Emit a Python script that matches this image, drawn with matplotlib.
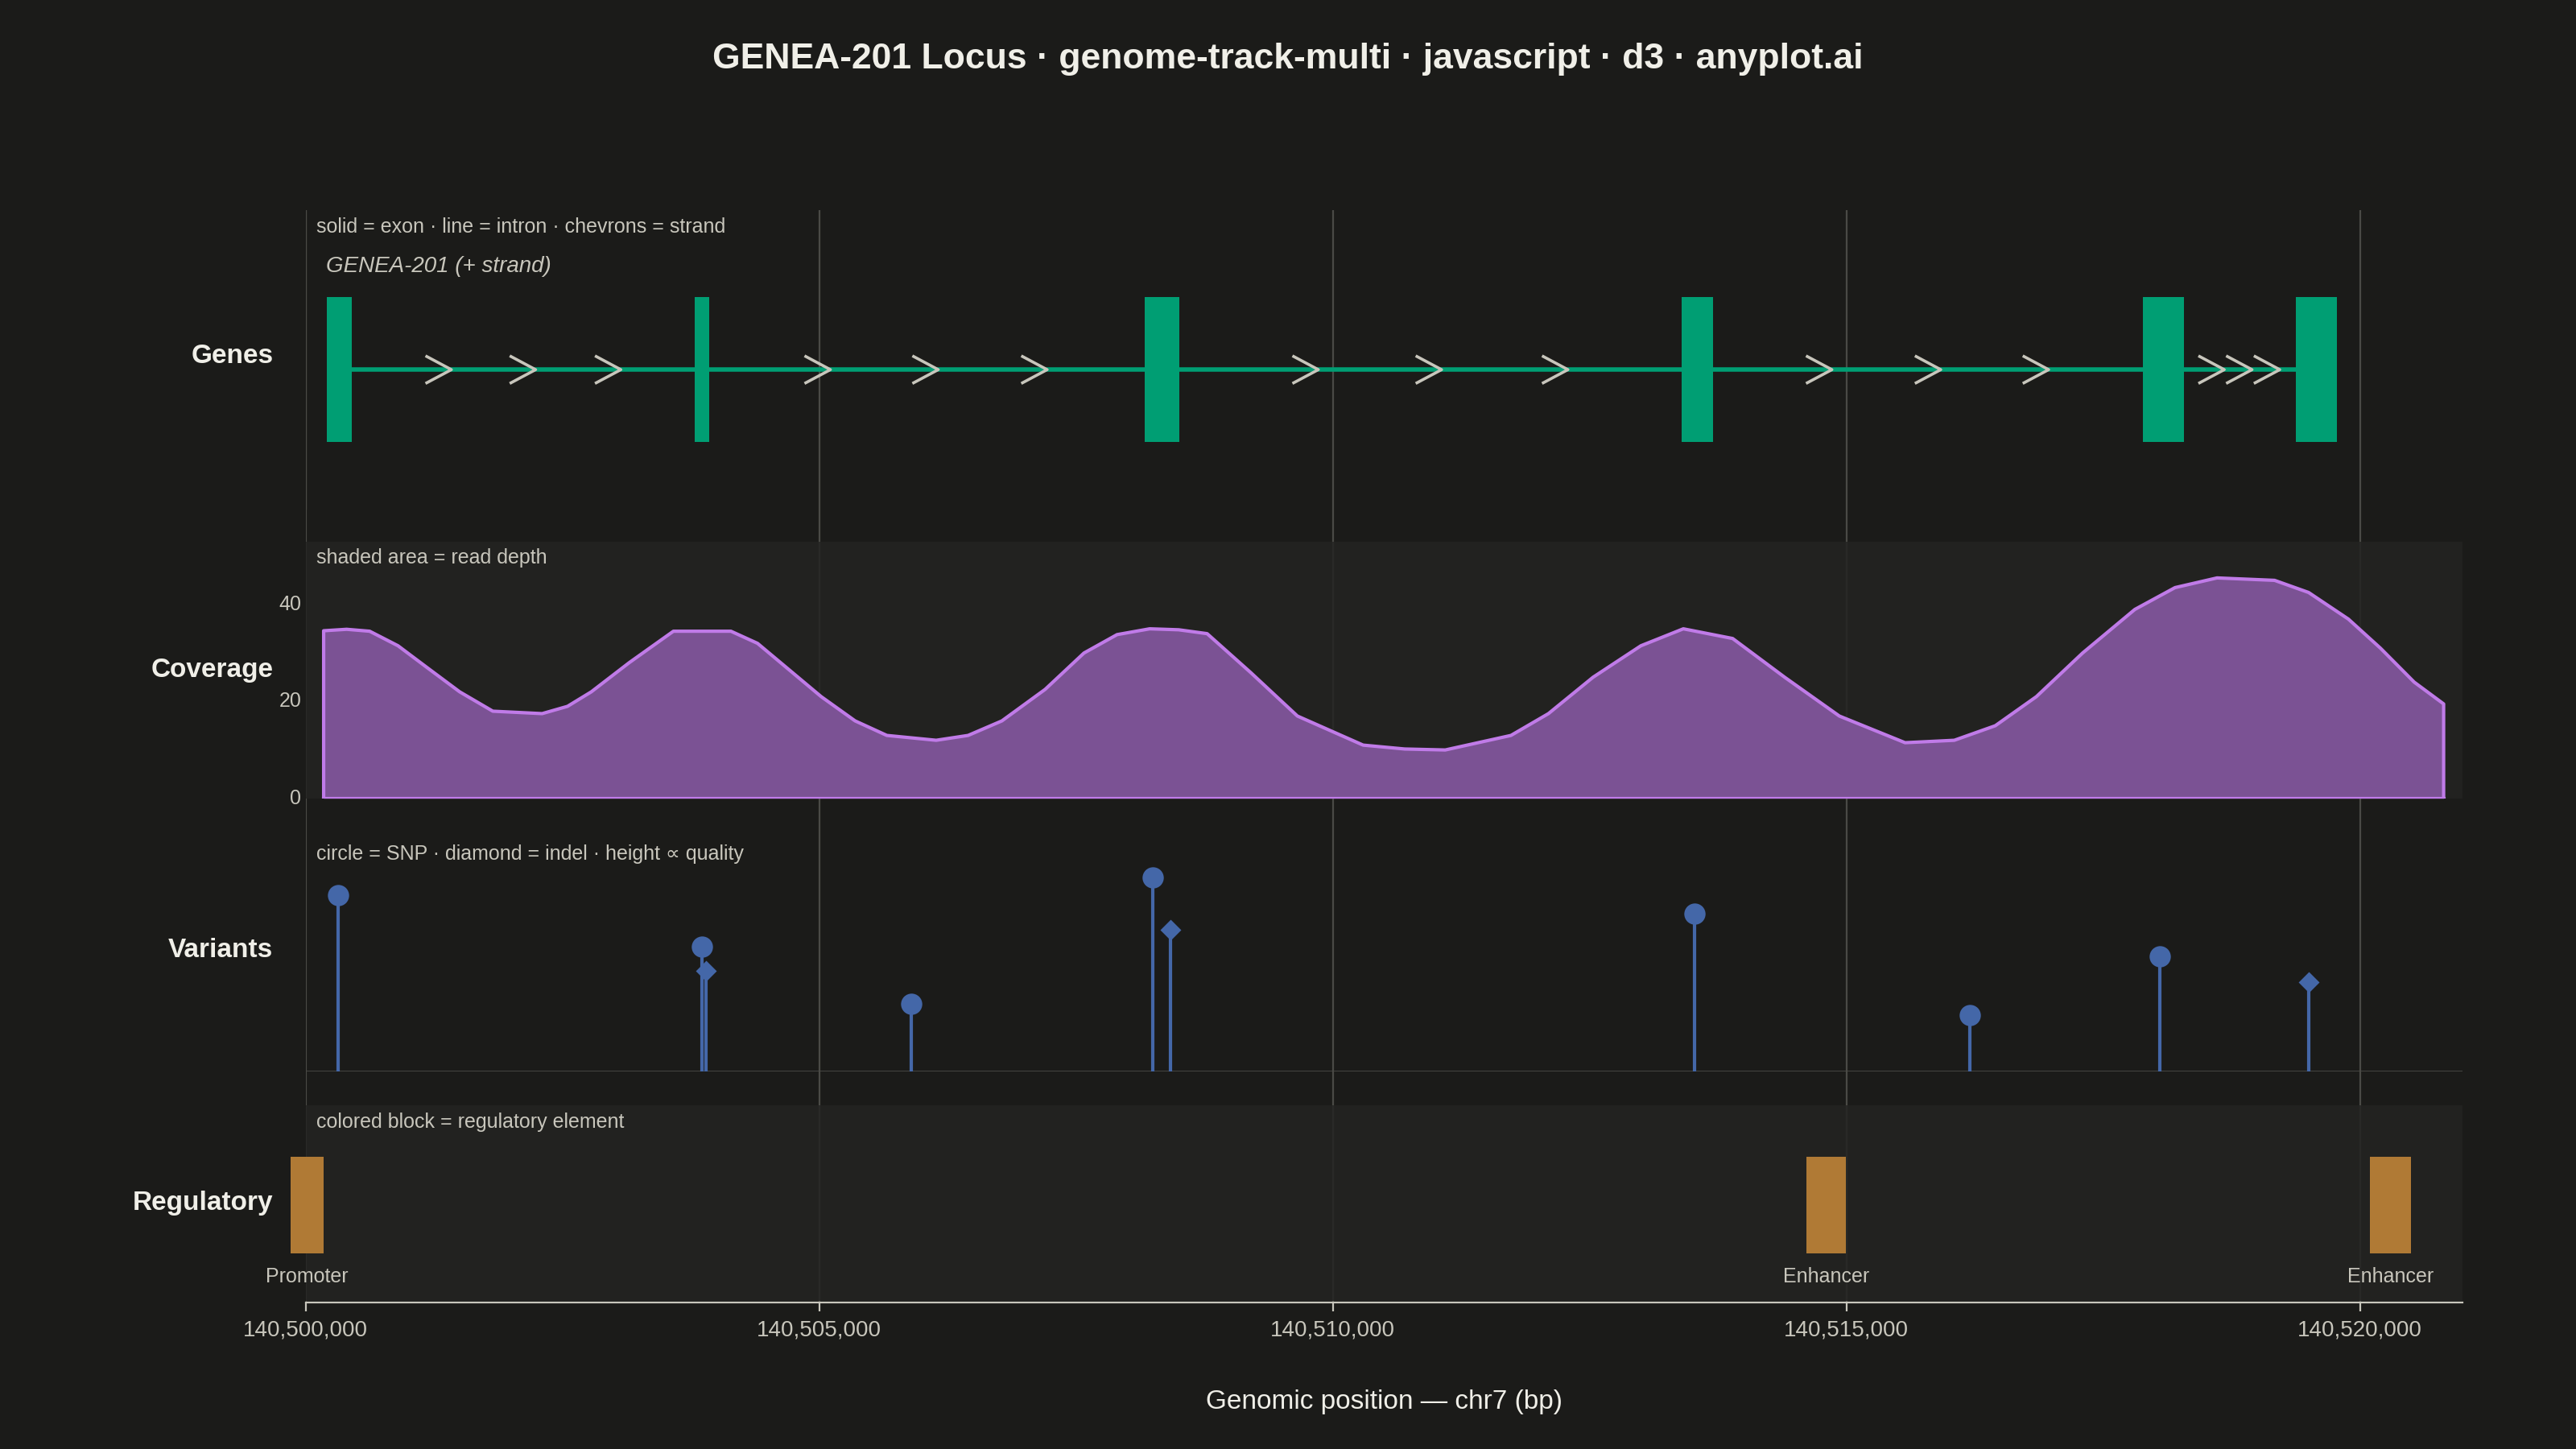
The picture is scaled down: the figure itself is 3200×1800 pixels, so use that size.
import numpy as np
import matplotlib.pyplot as plt
from matplotlib.ticker import FuncFormatter

plt.rcParams['font.family'] = ['Liberation Sans', 'DejaVu Sans']

# ---- data ----
exon_start = [140500208, 140503790, 140508170, 140513397, 140517890, 140519376]
exon_end = [140500448, 140503933, 140508505, 140513700, 140518290, 140519776]
chevron_pos = [140501300, 140502120, 140502950, 140504990, 140506040, 140507100,
               140509740, 140510940, 140512170, 140514740, 140515800, 140516850,
               140518560, 140518830, 140519100]

cov_pos = [140500176, 140500400, 140500624, 140500900, 140501183, 140501500,
           140501823, 140502303, 140502550, 140502782, 140503150, 140503581,
           140504141, 140504400, 140505020, 140505350, 140505659, 140506139,
           140506450, 140506779, 140507200, 140507578, 140507900, 140508218,
           140508500, 140508777, 140509200, 140509656, 140510296, 140510700,
           140511095, 140511735, 140512100, 140512534, 140513000, 140513413,
           140513893, 140514400, 140514932, 140515572, 140516051, 140516450,
           140516850, 140517300, 140517809, 140518200, 140518609, 140519169,
           140519500, 140519888, 140520200, 140520528, 140520815]
cov_depth = [34.6, 34.9, 34.5, 31.5, 27, 22, 18, 17.5, 19, 22, 28, 34.5,
             34.5, 32, 21, 16, 13, 12, 13, 16, 22.5, 30, 33.8, 35,
             34.8, 34, 26, 17, 11, 10.2, 10, 13, 17.5, 25, 31.5, 35,
             33, 25, 17, 11.5, 12, 15, 21, 30, 39, 43.5, 45.5, 45,
             42.5, 37, 31, 24, 19.5]

var_pos = [140500320, 140503860, 140503900, 140505900, 140508250, 140508420,
           140513520, 140516200, 140518050, 140519500]
var_type = ["snp", "snp", "indel", "snp", "snp", "indel", "snp", "snp", "snp", "indel"]
var_qual = [107, 76, 61, 41, 118, 86, 96, 34, 70, 54]

reg_start = [140499856, 140514613, 140520096]
reg_end = [140500176, 140514996, 140520496]
reg_label = ["Promoter", "Enhancer", "Enhancer"]

XMIN, XMAX = 140500000, 140521000
grid_x = [140500000, 140505000, 140510000, 140515000, 140520000]

BG = "#1b1b19"
PANEL = "#242422"
TXT = "#f0efe8"
SUB = "#c8c6bc"
GRID = "#4a4a46"

fig = plt.figure(figsize=(16, 9), dpi=200, facecolor=BG)
L, W = 186 / 1568, 1313 / 1568


def panel(top, bottom):
    return fig.add_axes([L, 1 - bottom / 882, W, (bottom - top) / 882])


# background grid spanning all tracks
bg = panel(128, 793)
bg.set_xlim(XMIN, XMAX)
bg.set_ylim(0, 1)
bg.set_facecolor("none")
for g in grid_x:
    bg.axvline(g, color=GRID, lw=0.8, zorder=0)
bg.set_yticks([])
for s in ["left", "right", "top"]:
    bg.spines[s].set_visible(False)
bg.spines["bottom"].set_color(SUB)
bg.set_xticks(grid_x)
bg.xaxis.set_major_formatter(FuncFormatter(lambda v, p: f"{int(v):,}"))
bg.tick_params(axis="x", colors=SUB, labelcolor=SUB, labelsize=10, length=4)
bg.set_xlabel("Genomic position — chr7 (bp)", color=TXT, fontsize=12, labelpad=22)


def setup(ax, shaded, label):
    ax.set_xlim(XMIN, XMAX)
    ax.set_facecolor(PANEL if shaded else "none")
    if shaded:
        ax.patch.set_alpha(0.85)
    for s in ax.spines.values():
        s.set_visible(False)
    ax.set_xticks([])
    ax.set_yticks([])
    ax.text(-0.015, 0.5, label, transform=ax.transAxes, ha="right", va="center",
            color=TXT, fontsize=12, fontweight="bold")


# ---- genes ----
ax_g = panel(128, 310)
setup(ax_g, False, "")
ax_g.set_ylim(0, 182)
ax_g.text(-0.015, (310 - 217) / 182, "Genes", transform=ax_g.transAxes, ha="right",
          va="center", color=TXT, fontsize=12, fontweight="bold")
ax_g.axvline(XMIN, color=GRID, lw=0.8)
ax_g.plot([exon_end[0], exon_start[-1]], [85, 85], color="#009e73", lw=2, zorder=2)
for s, e in zip(exon_start, exon_end):
    ax_g.fill_between([s, e], 41, 129, color="#009e73", lw=0, zorder=3)
for c in chevron_pos:
    ax_g.plot([c - 120, c + 120, c - 120], [93, 85, 77], color="#c8c6bc", lw=1.3, zorder=4)
ax_g.text(0.005, 172, "solid = exon · line = intron · chevrons = strand",
          transform=ax_g.get_yaxis_transform(), color=SUB, fontsize=9, va="center")
ax_g.text(0.0095, 148, "GENEA-201 (+ strand)", transform=ax_g.get_yaxis_transform(),
          color=SUB, fontsize=10, style="italic", va="center")

# ---- coverage ----
ax_c = panel(330, 486)
setup(ax_c, True, "Coverage")
ax_c.set_ylim(0, 156 / 2.95)
ax_c.fill_between(cov_pos, 0, cov_depth, color="#7b5294", lw=0, zorder=2)
ax_c.plot([cov_pos[0]] + cov_pos + [cov_pos[-1]], [0] + cov_depth + [0],
          color="#c07be8", lw=1.5, zorder=3)
ax_c.plot([cov_pos[0], cov_pos[-1]], [0, 0], color="#c07be8", lw=1.5, zorder=3)
for t in [0, 20, 40]:
    ax_c.text(-0.002, t, str(t), transform=ax_c.get_yaxis_transform(), ha="right",
              va="center", color=SUB, fontsize=9)
ax_c.text(0.005, 0.94, "shaded area = read depth", transform=ax_c.transAxes,
          color=SUB, fontsize=9, va="center")

# ---- variants ----
ax_v = panel(505, 652)
setup(ax_v, False, "Variants")
ax_v.set_ylim(0, 147)
ax_v.axhline(0, color=GRID, lw=1)
for p, t, q in zip(var_pos, var_type, var_qual):
    ax_v.plot([p, p], [0, q], color="#4467a8", lw=1.5, zorder=2)
    if t == "snp":
        ax_v.plot(p, q, "o", ms=8.5, color="#4467a8", zorder=3)
    else:
        ax_v.plot(p, q, "D", ms=5.5, color="#4467a8", zorder=3)
ax_v.text(0.005, 0.9, "circle = SNP · diamond = indel · height ∝ quality",
          transform=ax_v.transAxes, color=SUB, fontsize=9, va="center")

# ---- regulatory ----
ax_r = panel(673, 792)
setup(ax_r, True, "Regulatory")
ax_r.set_ylim(0, 119)
for s, e, lab in zip(reg_start, reg_end, reg_label):
    ax_r.fill_between([s, e], 29, 88, color="#b07a35", lw=0, zorder=2, clip_on=False)
    ax_r.text((s + e) / 2, 15, lab, ha="center", va="center", color=SUB, fontsize=9)
ax_r.text(0.005, 0.915, "colored block = regulatory element",
          transform=ax_r.transAxes, color=SUB, fontsize=9, va="center")

fig.text(0.5, 1 - 36 / 882, "GENEA-201 Locus · genome-track-multi · javascript · d3 · anyplot.ai",
         ha="center", va="center", color=TXT, fontsize=16, fontweight="bold")

fig.savefig("out.png", dpi=200, facecolor=BG)
